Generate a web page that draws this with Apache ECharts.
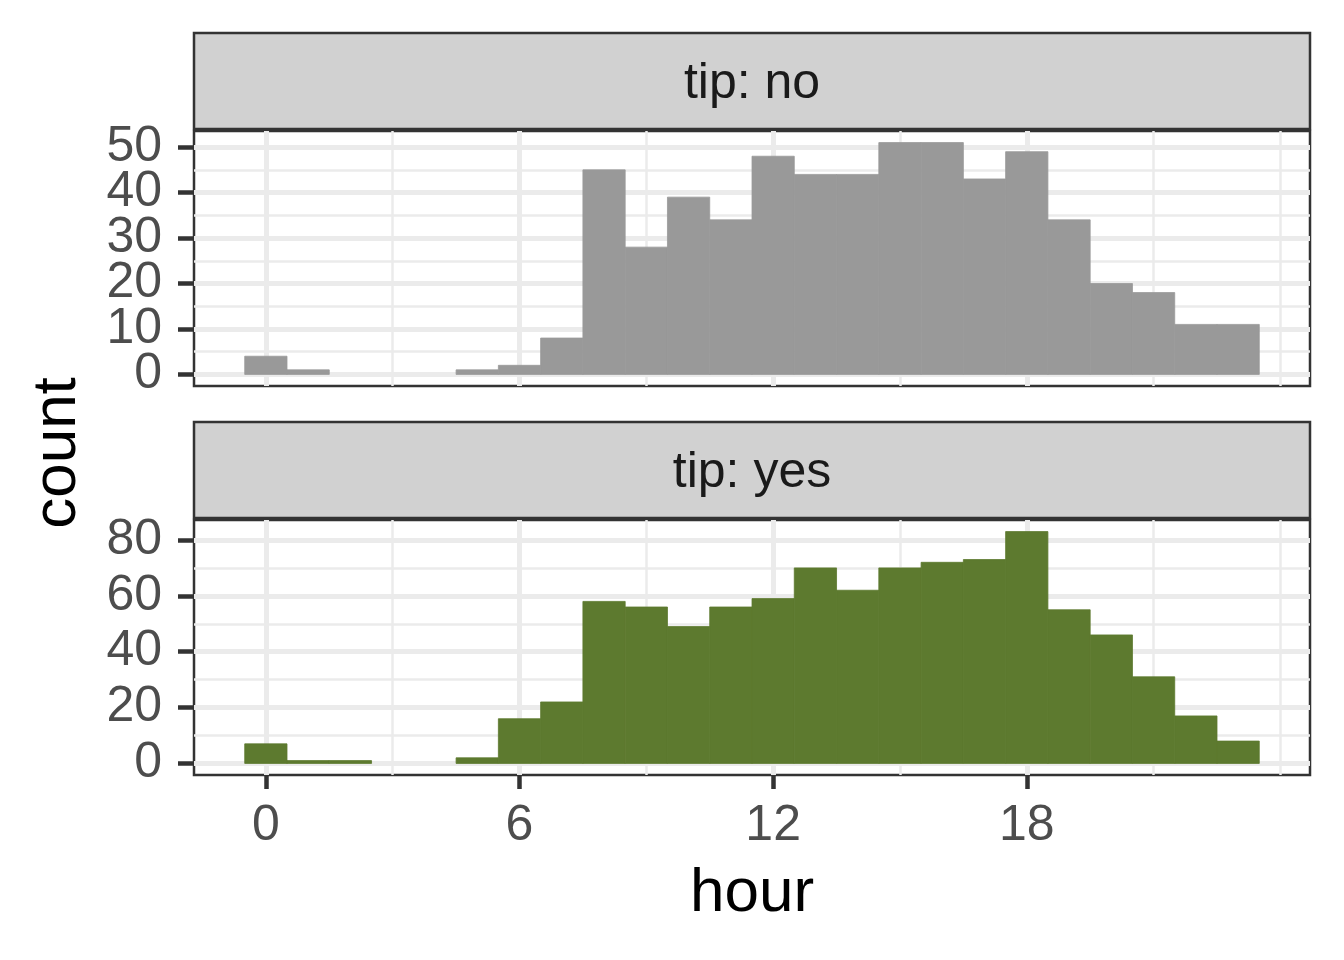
<!DOCTYPE html>
<html>
<head>
<meta charset="utf-8">
<script src="https://cdn.jsdelivr.net/npm/echarts@6/dist/echarts.min.js"></script>
<style>
  html, body { margin: 0; padding: 0; background: #fff; }
  #chart { width: 1344px; height: 960px; }
</style>
</head>
<body>
<div id="chart"></div>
<script>
// data (binwidth = 1 hour)
const hours = [0, 1, 2, 3, 4, 5, 6, 7, 8, 9, 10, 11, 12, 13, 14, 15, 16, 17, 18, 19, 20, 21, 22, 23];
const countNo = [4, 1, 0, 0, 0, 1, 2, 8, 45, 28, 39, 34, 48, 44, 44, 51, 51, 43, 49, 34, 20, 18, 11, 11];
const countYes = [7, 1, 1, 0, 0, 2, 16, 22, 58, 56, 49, 56, 59, 70, 62, 70, 72, 73, 83, 55, 46, 31, 17, 8];

// breaks
const xMajor = [0, 6, 12, 18];
const xMinor = [3, 9, 15, 21, 24];
const yMajorNo = [0, 10, 20, 30, 40, 50];
const yMinorNo = [5, 15, 25, 35, 45];
const yMajorYes = [0, 20, 40, 60, 80];
const yMinorYes = [10, 30, 50, 70];

const FONT = '"Liberation Sans", Arial, sans-serif';
const GRID_COL = "#EBEBEB";

const myChart = echarts.init(document.getElementById("chart"));

// panel geometry
const panelLeft = 194, panelWidth = 1116, panelHeight = 255;
const panels = [
  { top: 131, stripTop: 33, label: "tip: no", color: "#999999", data: countNo,
    yMin: -2.55, yMax: 53.55, yMajor: yMajorNo, yMinor: yMinorNo, showX: false },
  { top: 520, stripTop: 422, label: "tip: yes", color: "#5D7A2F", data: countYes,
    yMin: -4.15, yMax: 87.15, yMajor: yMajorYes, yMinor: yMinorYes, showX: true },
];

const grids = [], xAxes = [], yAxes = [], series = [], graphics = [];

// a major y axis carrying some of the breaks (split so labels never get culled)
const majorY = (i, p, values) => ({
  gridIndex: i, type: "value", min: p.yMin, max: p.yMax, position: "left", offset: 0,
  axisLine: { show: false, onZero: false },
  axisTick: { show: true, customValues: values, length: 16, lineStyle: { color: "#333333", width: 4.5 } },
  axisLabel: {
    customValues: values, margin: 32, fontSize: 50, color: "#4D4D4D", fontFamily: FONT,
    hideOverlap: false, showMinLabel: true, showMaxLabel: true,
  },
  splitLine: { show: true, lineStyle: { color: GRID_COL, width: 5 } },
});

panels.forEach((p, i) => {
  grids.push({
    left: panelLeft, top: p.top, width: panelWidth, height: panelHeight,
    show: true, borderColor: "#333333", borderWidth: 2.5, backgroundColor: "transparent",
  });

  const xIndex = xAxes.length;
  // major x
  xAxes.push({
    gridIndex: i, type: "value", min: -1.7, max: 24.7, position: "bottom",
    axisLine: { show: false, onZero: false },
    axisTick: { show: p.showX, customValues: xMajor, length: 14, lineStyle: { color: "#333333", width: 4.5 } },
    axisLabel: {
      show: p.showX, customValues: xMajor, margin: 26, fontSize: 50, color: "#4D4D4D", fontFamily: FONT,
      hideOverlap: false, showMinLabel: true, showMaxLabel: true,
    },
    splitLine: { show: true, lineStyle: { color: GRID_COL, width: 5 } },
  });
  // minor x
  xAxes.push({
    gridIndex: i, type: "value", min: -1.7, max: 24.7, position: "top",
    axisLine: { show: false, onZero: false },
    axisTick: { show: false, customValues: xMinor },
    axisLabel: { show: false },
    splitLine: { show: true, lineStyle: { color: GRID_COL, width: 2.5 } },
  });

  const yIndex = yAxes.length;
  yAxes.push(majorY(i, p, p.yMajor.filter((v, k) => k % 2 === 0)));
  yAxes.push(majorY(i, p, p.yMajor.filter((v, k) => k % 2 === 1)));
  // minor y
  yAxes.push({
    gridIndex: i, type: "value", min: p.yMin, max: p.yMax, position: "right",
    axisLine: { show: false, onZero: false },
    axisTick: { show: false, customValues: p.yMinor },
    axisLabel: { show: false },
    splitLine: { show: true, lineStyle: { color: GRID_COL, width: 2.5 } },
  });

  series.push({
    type: "custom",
    xAxisIndex: xIndex,
    yAxisIndex: yIndex,
    data: hours.map((h, k) => [h, p.data[k]]),
    renderItem: (params, api) => {
      const h = api.value(0);
      const c = api.value(1);
      const p0 = api.coord([h - 0.5, c]);
      const p1 = api.coord([h + 0.5, 0]);
      return {
        type: "rect",
        shape: { x: p0[0], y: p0[1], width: p1[0] - p0[0], height: p1[1] - p0[1] },
        style: { fill: p.color, stroke: c > 0 ? p.color : null, lineWidth: 0.8 },
      };
    },
    z: 3,
  });

  // facet strip
  graphics.push({
    type: "rect",
    shape: { x: panelLeft, y: p.stripTop, width: panelWidth, height: 96 },
    style: { fill: "#D1D1D1", stroke: "#333333", lineWidth: 2.5 },
    z: 1,
  });
  graphics.push({
    type: "text",
    x: panelLeft + panelWidth / 2,
    y: p.stripTop + 51,
    style: {
      text: p.label, fill: "#1A1A1A", font: "50px " + FONT,
      textAlign: "center", textVerticalAlign: "middle",
    },
    z: 2,
  });
});

// axis titles
graphics.push({
  type: "text", x: 58, y: 453, rotation: Math.PI / 2,
  style: { text: "count", fill: "#000", font: "62px " + FONT, textAlign: "center", textVerticalAlign: "middle" },
});
graphics.push({
  type: "text", x: panelLeft + panelWidth / 2, y: 894,
  style: { text: "hour", fill: "#000", font: "62px " + FONT, textAlign: "center", textVerticalAlign: "middle" },
});

myChart.setOption({
  animation: false,
  backgroundColor: "#ffffff",
  grid: grids,
  xAxis: xAxes,
  yAxis: yAxes,
  series: series,
  graphic: graphics,
});
</script>
</body>
</html>
